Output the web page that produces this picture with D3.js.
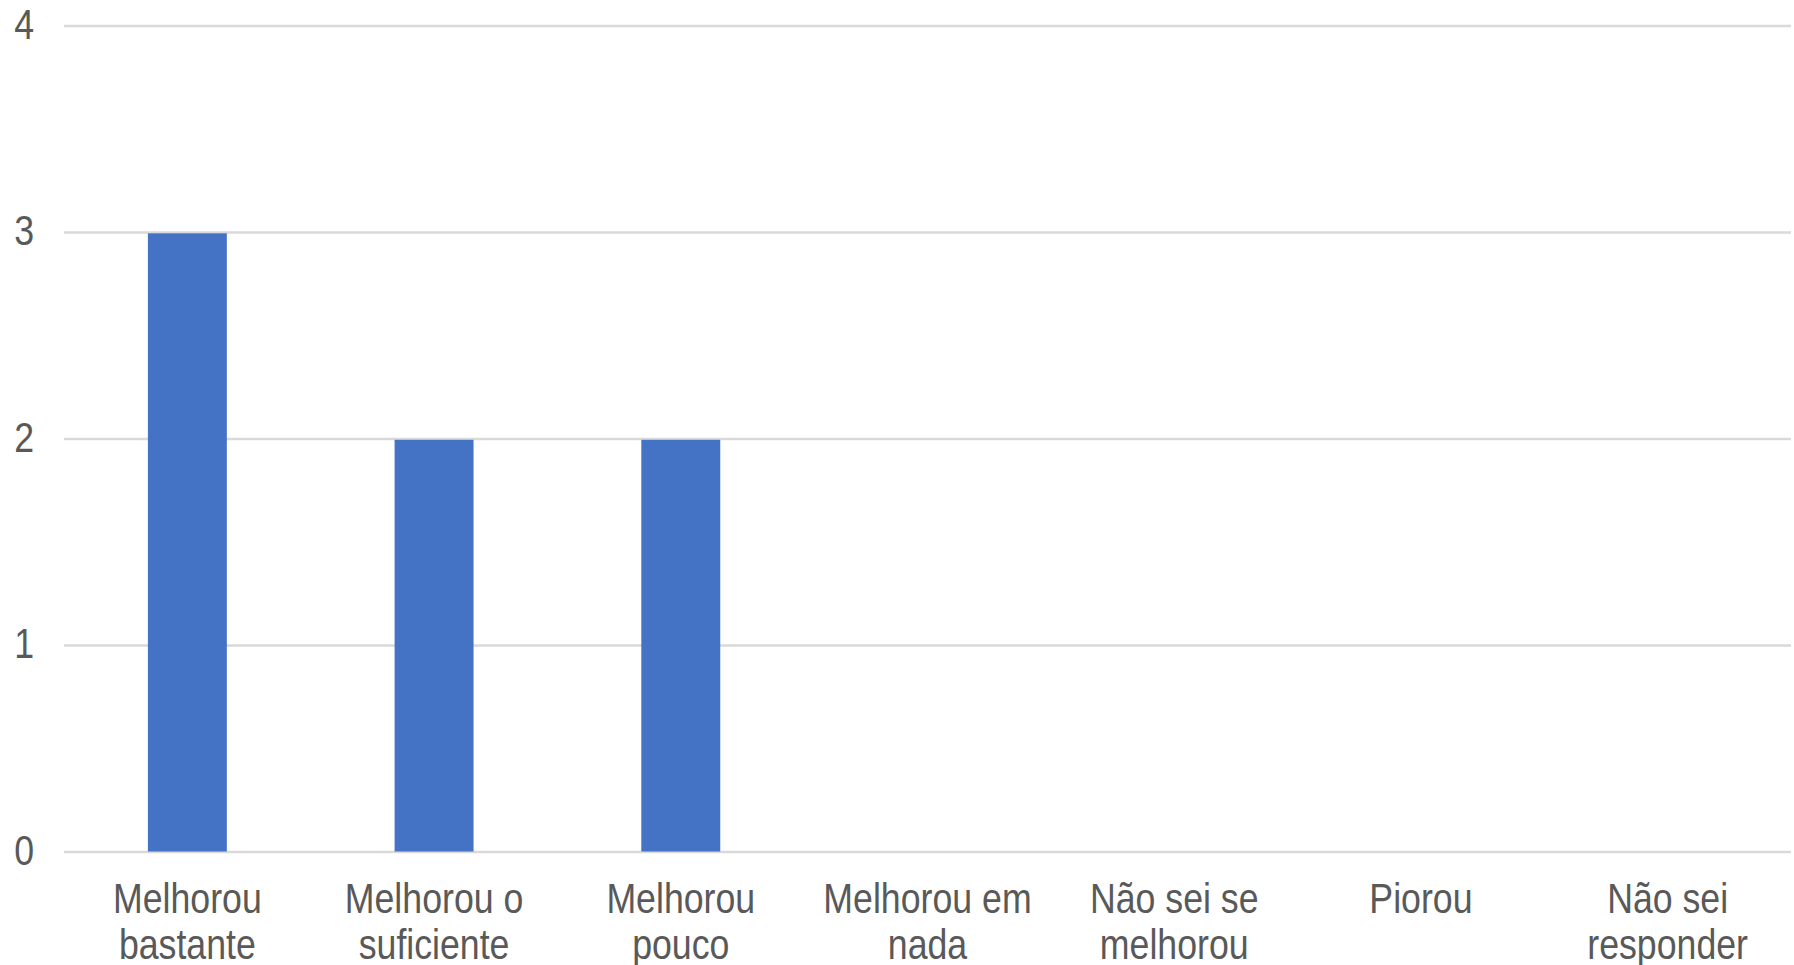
<!DOCTYPE html>
<html>
<head>
<meta charset="utf-8">
<script src="https://cdn.jsdelivr.net/npm/d3@7"></script>
<style>
  html, body { margin: 0; padding: 0; background: #ffffff; }
  svg { display: block; }
</style>
</head>
<body>
<svg id="chart" width="1794" height="965"></svg>
<script>
const categories = [
  ["Melhorou", "bastante"],
  ["Melhorou o", "suficiente"],
  ["Melhorou", "pouco"],
  ["Melhorou em", "nada"],
  ["Não sei se", "melhorou"],
  ["Piorou"],
  ["Não sei", "responder"]
];
const values = [3, 2, 2, 0, 0, 0, 0];
const yTicks = [0, 1, 2, 3, 4];

(function () {
const svg = d3.select("#chart");
const plotLeft = 64, plotRight = 1791, plotTop = 25.5, plotBottom = 851.5;
const textColor = "#595959";
const gridColor = "#d9d9d9";
const barColor = "#4472c4";
const fontFamily = "'Liberation Sans', Arial, sans-serif";
const sx = 0.85;

const keys = categories.map(c => c.join(" "));
const x = d3.scaleBand().domain(keys).range([plotLeft, plotRight]).paddingInner(0.68).paddingOuter(0.34);
const y = d3.scaleLinear().domain([0, 4]).range([plotBottom, plotTop]);

// gridlines + y labels via axis
const yAxis = svg.append("g")
  .attr("transform", `translate(${plotLeft},0)`)
  .call(d3.axisLeft(y).tickValues(yTicks).tickSize(-(plotRight - plotLeft)).tickPadding(0).tickFormat(d3.format("d")));
yAxis.select(".domain").remove();
yAxis.selectAll(".tick line").attr("stroke", gridColor).attr("stroke-width", 2.6);
yAxis.selectAll(".tick text")
  .attr("fill", textColor)
  .attr("font-family", fontFamily)
  .attr("font-size", 42)
  .attr("text-anchor", "end")
  .attr("dy", null)
  .attr("x", 0)
  .attr("y", 0)
  .attr("transform", `translate(-30,12.5) scale(${sx},1)`);

// bars
svg.append("g").selectAll("rect")
  .data(values.map((v, i) => ({ k: keys[i], v })))
  .join("rect")
  .attr("x", d => x(d.k))
  .attr("width", x.bandwidth())
  .attr("y", d => y(d.v) + 1.3)
  .attr("height", d => Math.max(0, y(0) - y(d.v) - 1.3))
  .attr("fill", barColor);

// x labels via axis
const xAxis = svg.append("g")
  .attr("transform", `translate(0,${plotBottom})`)
  .call(d3.axisBottom(x).tickSize(0).tickFormat(""));
xAxis.select(".domain").remove();
xAxis.selectAll(".tick").each(function(d, i) {
  const g = d3.select(this);
  g.select("text").remove();
  const t = g.append("text")
    .attr("fill", textColor)
    .attr("font-family", fontFamily)
    .attr("font-size", 42)
    .attr("text-anchor", "middle")
    .attr("transform", `scale(${sx},1)`);
  categories[i].forEach((line, j) => {
    t.append("tspan").attr("x", 0).attr("y", 61.2 + j * 46.5).text(line);
  });
});
})();
</script>
</body>
</html>
